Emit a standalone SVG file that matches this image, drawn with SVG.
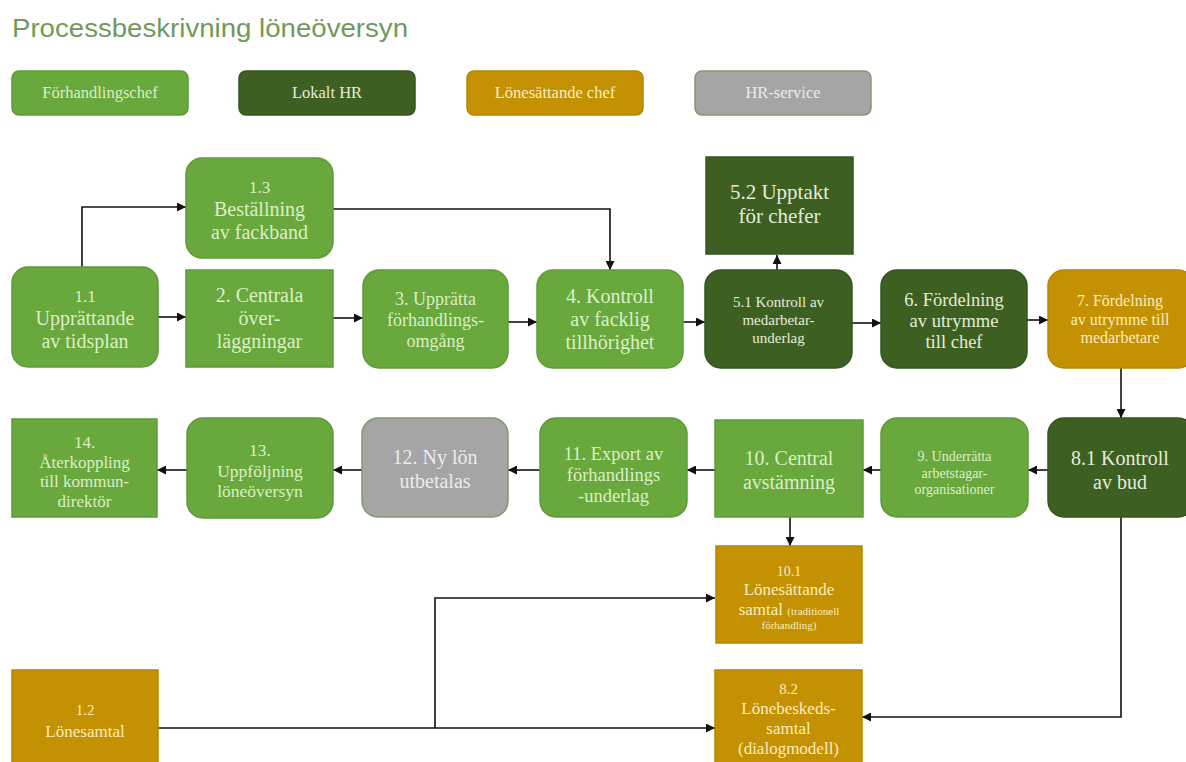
<svg xmlns="http://www.w3.org/2000/svg" width="1186" height="762" viewBox="0 0 1186 762">
<defs>
<style>
.lg{fill:#68a83c;stroke:#5e9a36;stroke-width:1.5}
.dg{fill:#3d5f22;stroke:#36551e;stroke-width:1.5}
.mu{fill:#c49102;stroke:#b58600;stroke-width:1.5}
.gr{fill:#a5a5a5;stroke:#7f9a6a;stroke-width:1.5}
text{font-family:"Liberation Serif","Times New Roman",serif;text-anchor:middle}
.tl{fill:#dcefc6}
.td{fill:#e4ecd8}
.tm{fill:#fbedbd}
.tg{fill:#ececec}
.conn path{fill:none;stroke:#111;stroke-width:1.6}
</style>
<marker id="ah" viewBox="0 0 10 10" refX="10" refY="5" markerWidth="9" markerHeight="9" markerUnits="userSpaceOnUse" orient="auto">
<path d="M0,0 L10,5 L0,10 z" fill="#111"/>
</marker>
</defs>
<rect width="1186" height="762" fill="#ffffff"/>
<text x="12" y="37" style="font-family:'Liberation Sans',Arial,sans-serif;text-anchor:start;fill:#6f9a5a;font-size:25px" textLength="396" lengthAdjust="spacingAndGlyphs">Processbeskrivning löneöversyn</text>

<g id="legend">
<g id="leg-forhandlingschef"><rect class="lg" x="12" y="71" width="176" height="44" rx="7"/><text class="tl" x="100" y="98" font-size="16.5">Förhandlingschef</text></g>
<g id="leg-lokalt-hr"><rect class="dg" x="239" y="71" width="176" height="44" rx="7"/><text class="td" x="327" y="98" font-size="16.5">Lokalt HR</text></g>
<g id="leg-lonesattande-chef"><rect class="mu" x="467" y="71" width="176" height="44" rx="7"/><text class="tm" x="555" y="98" font-size="16.5">Lönesättande chef</text></g>
<g id="leg-hr-service"><rect class="gr" x="695" y="71" width="176" height="44" rx="7"/><text class="tg" x="783" y="98" font-size="16.5">HR-service</text></g>
</g>

<g id="connectors" class="conn">
<path d="M82,267 V207 H186" marker-end="url(#ah)"/>
<path d="M158,317 H186" marker-end="url(#ah)"/>
<path d="M333,318 H363" marker-end="url(#ah)"/>
<path d="M508,322 H537" marker-end="url(#ah)"/>
<path d="M333,209 H610 V270" marker-end="url(#ah)"/>
<path d="M683,322 H705" marker-end="url(#ah)"/>
<path d="M777,270 V255" marker-end="url(#ah)"/>
<path d="M852,323 H881" marker-end="url(#ah)"/>
<path d="M1027,320 H1048" marker-end="url(#ah)"/>
<path d="M1121,368 V418" marker-end="url(#ah)"/>
<path d="M1048,470 H1028" marker-end="url(#ah)"/>
<path d="M881,470 H863" marker-end="url(#ah)"/>
<path d="M715,470 H687" marker-end="url(#ah)"/>
<path d="M540,470 H508" marker-end="url(#ah)"/>
<path d="M362,470 H333" marker-end="url(#ah)"/>
<path d="M187,470 H157" marker-end="url(#ah)"/>
<path d="M790,517 V546" marker-end="url(#ah)"/>
<path d="M1121,517 V717 H862" marker-end="url(#ah)"/>
<path d="M158,728 H715" marker-end="url(#ah)"/>
<path d="M435,728 V598 H715" marker-end="url(#ah)"/>
</g>

<g id="n1-1"><rect class="lg" x="12" y="267" width="146" height="100" rx="16"/>
<text class="tl" x="85" font-size="17"><tspan x="85" y="302">1.1</tspan><tspan x="85" y="325" font-size="20">Upprättande</tspan><tspan x="85" y="348" font-size="20">av tidsplan</tspan></text></g>

<g id="n1-3"><rect class="lg" x="186" y="158" width="147" height="100" rx="16"/>
<text class="tl" x="259.5" font-size="17"><tspan x="259.5" y="193">1.3</tspan><tspan x="259.5" y="216" font-size="20">Beställning</tspan><tspan x="259.5" y="239" font-size="20">av fackband</tspan></text></g>

<g id="n2"><rect class="lg" x="186" y="270" width="147" height="97"/>
<text class="tl" x="259.5" font-size="20"><tspan x="259.5" y="302">2. Centrala</tspan><tspan x="259.5" y="325">över-</tspan><tspan x="259.5" y="348">läggningar</tspan></text></g>

<g id="n3"><rect class="lg" x="363" y="270" width="145" height="98" rx="16"/>
<text class="tl" x="435.5" font-size="18"><tspan x="435.5" y="305">3. Upprätta</tspan><tspan x="435.5" y="326">förhandlings-</tspan><tspan x="435.5" y="347">omgång</tspan></text></g>

<g id="n4"><rect class="lg" x="537" y="270" width="146" height="98" rx="16"/>
<text class="tl" x="610" font-size="20"><tspan x="610" y="303">4. Kontroll</tspan><tspan x="610" y="326">av facklig</tspan><tspan x="610" y="349">tillhörighet</tspan></text></g>

<g id="n5-1"><rect class="dg" x="705" y="270" width="147" height="98" rx="16"/>
<text class="td" x="778.5" font-size="15"><tspan x="778.5" y="307">5.1 Kontroll av</tspan><tspan x="778.5" y="325">medarbetar-</tspan><tspan x="778.5" y="343">underlag</tspan></text></g>

<g id="n5-2"><rect class="dg" x="706" y="157" width="147" height="97"/>
<text class="td" x="779.5" font-size="21"><tspan x="779.5" y="199">5.2 Upptakt</tspan><tspan x="779.5" y="223">för chefer</tspan></text></g>

<g id="n6"><rect class="dg" x="881" y="270" width="146" height="98" rx="16"/>
<text class="td" x="954" font-size="18.5"><tspan x="954" y="306">6. Fördelning</tspan><tspan x="954" y="327">av utrymme</tspan><tspan x="954" y="348">till chef</tspan></text></g>

<g id="n7"><rect class="mu" x="1048" y="270" width="146" height="98" rx="16"/>
<text class="tm" x="1120" font-size="16"><tspan x="1120" y="306">7. Fördelning</tspan><tspan x="1120" y="324.5">av utrymme till</tspan><tspan x="1120" y="343">medarbetare</tspan></text></g>

<g id="n8-1"><rect class="dg" x="1048" y="418" width="146" height="99" rx="16"/>
<text class="td" x="1120" font-size="20"><tspan x="1120" y="465">8.1 Kontroll</tspan><tspan x="1120" y="489">av bud</tspan></text></g>

<g id="n9"><rect class="lg" x="881" y="418" width="147" height="99" rx="16"/>
<text class="tl" x="954.5" font-size="14"><tspan x="954.5" y="461">9. Underrätta</tspan><tspan x="954.5" y="477.5">arbetstagar-</tspan><tspan x="954.5" y="494">organisationer</tspan></text></g>

<g id="n10"><rect class="lg" x="715" y="420" width="148" height="97"/>
<text class="tl" x="789" font-size="20"><tspan x="789" y="465">10. Central</tspan><tspan x="789" y="489">avstämning</tspan></text></g>

<g id="n11"><rect class="lg" x="540" y="418" width="147" height="99" rx="16"/>
<text class="tl" x="613.5" font-size="18.5"><tspan x="613.5" y="460">11. Export av</tspan><tspan x="613.5" y="481">förhandlings</tspan><tspan x="613.5" y="502">-underlag</tspan></text></g>

<g id="n12"><rect class="gr" x="362" y="418" width="146" height="99" rx="16"/>
<text class="tg" x="435" font-size="20"><tspan x="435" y="464">12. Ny lön</tspan><tspan x="435" y="488">utbetalas</tspan></text></g>

<g id="n13"><rect class="lg" x="187" y="418" width="146" height="100" rx="16"/>
<text class="tl" x="260" font-size="17.5"><tspan x="260" y="456">13.</tspan><tspan x="260" y="476.5">Uppföljning</tspan><tspan x="260" y="497">löneöversyn</tspan></text></g>

<g id="n14"><rect class="lg" x="12" y="419" width="145" height="98"/>
<text class="tl" x="84.5" font-size="17"><tspan x="84.5" y="448">14.</tspan><tspan x="84.5" y="467.5">Återkoppling</tspan><tspan x="84.5" y="487">till kommun-</tspan><tspan x="84.5" y="506.5">direktör</tspan></text></g>

<g id="n10-1"><rect class="mu" x="716" y="546" width="146" height="97"/>
<text class="tm" x="789" font-size="17"><tspan x="789" y="576" font-size="14">10.1</tspan><tspan x="789" y="595">Lönesättande</tspan><tspan x="789" y="615">samtal <tspan font-size="11">(traditionell</tspan></tspan><tspan x="789" y="629" font-size="11">förhandling)</tspan></text></g>

<g id="n8-2"><rect class="mu" x="715" y="670" width="147" height="100"/>
<text class="tm" x="788.5" font-size="17"><tspan x="788.5" y="694" font-size="15">8.2</tspan><tspan x="788.5" y="714">Lönebeskeds-</tspan><tspan x="788.5" y="734">samtal</tspan><tspan x="788.5" y="754">(dialogmodell)</tspan></text></g>

<g id="n1-2"><rect class="mu" x="12" y="670" width="146" height="100"/>
<text class="tm" x="85" font-size="17"><tspan x="85" y="715" font-size="15">1.2</tspan><tspan x="85" y="737">Lönesamtal</tspan></text></g>
</svg>
